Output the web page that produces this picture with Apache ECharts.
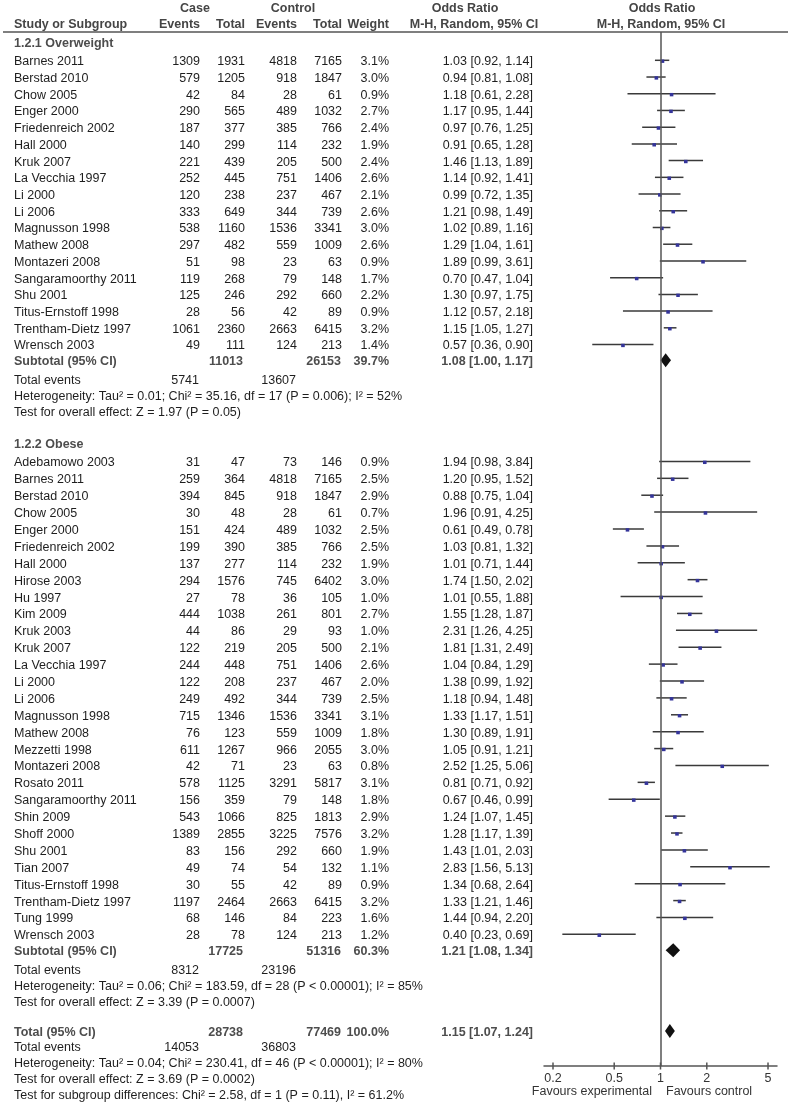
<!DOCTYPE html>
<html><head><meta charset="utf-8">
<script src="https://cdn.jsdelivr.net/npm/echarts@6/dist/echarts.min.js"></script>
<style>html,body{margin:0;padding:0;background:#fff}#c{width:792px;height:1113px}</style>
</head><body><div id="c"></div>
<script>
// ---------------- DATA ----------------
const owStudies = ['Barnes 2011','Berstad 2010','Chow 2005','Enger 2000','Friedenreich 2002','Hall 2000','Kruk 2007','La Vecchia 1997','Li 2000','Li 2006','Magnusson 1998','Mathew 2008','Montazeri 2008','Sangaramoorthy 2011','Shu 2001','Titus-Ernstoff 1998','Trentham-Dietz 1997','Wrensch 2003'];
const owCaseEvents = [1309,579,42,290,187,140,221,252,120,333,538,297,51,119,125,28,1061,49];
const owCaseTotal  = [1931,1205,84,565,377,299,439,445,238,649,1160,482,98,268,246,56,2360,111];
const owCtrlEvents = [4818,918,28,489,385,114,205,751,237,344,1536,559,23,79,292,42,2663,124];
const owCtrlTotal  = [7165,1847,61,1032,766,232,500,1406,467,739,3341,1009,63,148,660,89,6415,213];
const owWeight     = [3.1,3.0,0.9,2.7,2.4,1.9,2.4,2.6,2.1,2.6,3.0,2.6,0.9,1.7,2.2,0.9,3.2,1.4];
const owOR         = [1.03,0.94,1.18,1.17,0.97,0.91,1.46,1.14,0.99,1.21,1.02,1.29,1.89,0.70,1.30,1.12,1.15,0.57];
const owLo         = [0.92,0.81,0.61,0.95,0.76,0.65,1.13,0.92,0.72,0.98,0.89,1.04,0.99,0.47,0.97,0.57,1.05,0.36];
const owHi         = [1.14,1.08,2.28,1.44,1.25,1.28,1.89,1.41,1.35,1.49,1.16,1.61,3.61,1.04,1.75,2.18,1.27,0.90];
const owSubtotal   = {caseTotal:11013, ctrlTotal:26153, weight:39.7, or:1.08, lo:1.00, hi:1.17, caseEvents:5741, ctrlEvents:13607};
const owStats      = ['Heterogeneity: Tau\u00b2 = 0.01; Chi\u00b2 = 35.16, df = 17 (P = 0.006); I\u00b2 = 52%','Test for overall effect: Z = 1.97 (P = 0.05)'];

const obStudies = ['Adebamowo 2003','Barnes 2011','Berstad 2010','Chow 2005','Enger 2000','Friedenreich 2002','Hall 2000','Hirose 2003','Hu 1997','Kim 2009','Kruk 2003','Kruk 2007','La Vecchia 1997','Li 2000','Li 2006','Magnusson 1998','Mathew 2008','Mezzetti 1998','Montazeri 2008','Rosato 2011','Sangaramoorthy 2011','Shin 2009','Shoff 2000','Shu 2001','Tian 2007','Titus-Ernstoff 1998','Trentham-Dietz 1997','Tung 1999','Wrensch 2003'];
const obCaseEvents = [31,259,394,30,151,199,137,294,27,444,44,122,244,122,249,715,76,611,42,578,156,543,1389,83,49,30,1197,68,28];
const obCaseTotal  = [47,364,845,48,424,390,277,1576,78,1038,86,219,448,208,492,1346,123,1267,71,1125,359,1066,2855,156,74,55,2464,146,78];
const obCtrlEvents = [73,4818,918,28,489,385,114,745,36,261,29,205,751,237,344,1536,559,966,23,3291,79,825,3225,292,54,42,2663,84,124];
const obCtrlTotal  = [146,7165,1847,61,1032,766,232,6402,105,801,93,500,1406,467,739,3341,1009,2055,63,5817,148,1813,7576,660,132,89,6415,223,213];
const obWeight     = [0.9,2.5,2.9,0.7,2.5,2.5,1.9,3.0,1.0,2.7,1.0,2.1,2.6,2.0,2.5,3.1,1.8,3.0,0.8,3.1,1.8,2.9,3.2,1.9,1.1,0.9,3.2,1.6,1.2];
const obOR         = [1.94,1.20,0.88,1.96,0.61,1.03,1.01,1.74,1.01,1.55,2.31,1.81,1.04,1.38,1.18,1.33,1.30,1.05,2.52,0.81,0.67,1.24,1.28,1.43,2.83,1.34,1.33,1.44,0.40];
const obLo         = [0.98,0.95,0.75,0.91,0.49,0.81,0.71,1.50,0.55,1.28,1.26,1.31,0.84,0.99,0.94,1.17,0.89,0.91,1.25,0.71,0.46,1.07,1.17,1.01,1.56,0.68,1.21,0.94,0.23];
const obHi         = [3.84,1.52,1.04,4.25,0.78,1.32,1.44,2.02,1.88,1.87,4.25,2.49,1.29,1.92,1.48,1.51,1.91,1.21,5.06,0.92,0.99,1.45,1.39,2.03,5.13,2.64,1.46,2.20,0.69];
const obSubtotal   = {caseTotal:17725, ctrlTotal:51316, weight:60.3, or:1.21, lo:1.08, hi:1.34, caseEvents:8312, ctrlEvents:23196};
const obStats      = ['Heterogeneity: Tau\u00b2 = 0.06; Chi\u00b2 = 183.59, df = 28 (P < 0.00001); I\u00b2 = 85%','Test for overall effect: Z = 3.39 (P = 0.0007)'];

const total        = {caseTotal:28738, ctrlTotal:77469, weight:100.0, or:1.15, lo:1.07, hi:1.24, caseEvents:14053, ctrlEvents:36803};
const totalStats   = ['Heterogeneity: Tau\u00b2 = 0.04; Chi\u00b2 = 230.41, df = 46 (P < 0.00001); I\u00b2 = 80%','Test for overall effect: Z = 3.69 (P = 0.0002)','Test for subgroup differences: Chi\u00b2 = 2.58, df = 1 (P = 0.11), I\u00b2 = 61.2%'];

const tickValues = [0.2, 0.5, 1, 2, 5];
const tickLabels = ['0.2', '0.5', '1', '2', '5'];

// ---------------- LAYOUT / STYLE ----------------
const FONT = '"Liberation Sans", Arial, Helvetica, sans-serif';
const FS = 12.5;
const C_TEXT = '#1e1e1e', C_BOLD = '#4d4d4d', C_HEAD = '#454545', C_AXIS = '#555555';
const COL = {study:14, ce:200, ct:245, xe:297, xt:342, w:389, or:533};
const PLOT = {left:544, top:32, width:233, bottom:1066};

const texts = [];
function txt(x, y, s, opt) {
  opt = opt || {};
  texts.push({type:'text', silent:true, x:x, y:y, style:{
    text:s, fontFamily:FONT, fontSize:opt.fs || FS, fontWeight:opt.bold ? 'bold' : 'normal',
    fill:opt.color || C_TEXT, align:opt.align || 'left', verticalAlign:'middle'}});
}
const fmtOR = (o,l,h) => o.toFixed(2) + ' [' + l.toFixed(2) + ', ' + h.toFixed(2) + ']';

// header
txt(195, 8.5, 'Case', {bold:true, color:C_HEAD, align:'center'});
txt(293, 8.5, 'Control', {bold:true, color:C_HEAD, align:'center'});
txt(465, 8.5, 'Odds Ratio', {bold:true, color:C_HEAD, align:'center'});
txt(662, 8.5, 'Odds Ratio', {bold:true, color:C_HEAD, align:'center'});
txt(COL.study, 25, 'Study or Subgroup', {bold:true, color:C_HEAD});
txt(COL.ce, 25, 'Events', {bold:true, color:C_HEAD, align:'right'});
txt(COL.ct, 25, 'Total', {bold:true, color:C_HEAD, align:'right'});
txt(COL.xe, 25, 'Events', {bold:true, color:C_HEAD, align:'right'});
txt(COL.xt, 25, 'Total', {bold:true, color:C_HEAD, align:'right'});
txt(COL.w, 25, 'Weight', {bold:true, color:C_HEAD, align:'right'});
txt(474, 25, 'M-H, Random, 95% CI', {bold:true, color:C_HEAD, align:'center'});
txt(661, 25, 'M-H, Random, 95% CI', {bold:true, color:C_HEAD, align:'center'});

const studyMarks = [], diamondMarks = [];
function group(title, yTitle, firstGap, step, names, ce, ct, xe, xt, w, or, lo, hi, sub, stats) {
  txt(COL.study, yTitle, title, {bold:true, color:C_BOLD});
  let y = yTitle + firstGap;
  for (let i = 0; i < names.length; i++) {
    if (i > 0) y += step;
    txt(COL.study, y, names[i]);
    txt(COL.ce, y, String(ce[i]), {align:'right'});
    txt(COL.ct, y, String(ct[i]), {align:'right'});
    txt(COL.xe, y, String(xe[i]), {align:'right'});
    txt(COL.xt, y, String(xt[i]), {align:'right'});
    txt(COL.w, y, w[i].toFixed(1) + '%', {align:'right'});
    txt(COL.or, y, fmtOR(or[i], lo[i], hi[i]), {align:'right'});
    studyMarks.push([lo[i], hi[i], or[i], y]);
  }
  y += 15.8;
  txt(COL.study, y, 'Subtotal (95% CI)', {bold:true, color:C_BOLD});
  txt(COL.ct - 2, y, String(sub.caseTotal), {bold:true, color:C_BOLD, align:'right'});
  txt(COL.xt - 1, y, String(sub.ctrlTotal), {bold:true, color:C_BOLD, align:'right'});
  txt(COL.w, y, sub.weight.toFixed(1) + '%', {bold:true, color:C_BOLD, align:'right'});
  txt(COL.or, y, fmtOR(sub.or, sub.lo, sub.hi), {bold:true, color:C_BOLD, align:'right'});
  diamondMarks.push([sub.lo, sub.hi, sub.or, y]);
  y += 18.8;
  txt(COL.study, y, 'Total events');
  txt(COL.ce - 1, y, String(sub.caseEvents), {align:'right'});
  txt(COL.xe - 1, y, String(sub.ctrlEvents), {align:'right'});
  y += 16;
  txt(COL.study, y, stats[0]);
  y += 16;
  txt(COL.study, y, stats[1]);
  return y;
}
let yEnd = group('1.2.1 Overweight', 43.5, 18.3, 16.72, owStudies, owCaseEvents, owCaseTotal, owCtrlEvents, owCtrlTotal, owWeight, owOR, owLo, owHi, owSubtotal, owStats);
yEnd = group('1.2.2 Obese', yEnd + 32.3, 18, 16.89, obStudies, obCaseEvents, obCaseTotal, obCtrlEvents, obCtrlTotal, obWeight, obOR, obLo, obHi, obSubtotal, obStats);
let yT = yEnd + 30;
txt(COL.study, yT, 'Total (95% CI)', {bold:true, color:C_BOLD});
txt(COL.ct - 2, yT, String(total.caseTotal), {bold:true, color:C_BOLD, align:'right'});
txt(COL.xt - 1, yT, String(total.ctrlTotal), {bold:true, color:C_BOLD, align:'right'});
txt(COL.w, yT, total.weight.toFixed(1) + '%', {bold:true, color:C_BOLD, align:'right'});
txt(COL.or, yT, fmtOR(total.or, total.lo, total.hi), {bold:true, color:C_BOLD, align:'right'});
diamondMarks.push([total.lo, total.hi, total.or, yT]);
let y2 = yT + 15;
txt(COL.study, y2, 'Total events');
txt(COL.ce - 1, y2, String(total.caseEvents), {align:'right'});
txt(COL.xe - 1, y2, String(total.ctrlEvents), {align:'right'});
totalStats.forEach(s => { y2 += 16; txt(COL.study, y2, s); });

// favours labels
txt(652, 1092, 'Favours experimental', {color:'#333', align:'right'});
txt(666, 1092, 'Favours control', {color:'#333', align:'left'});
// header rule
texts.push({type:'line', silent:true, shape:{x1:3, y1:32, x2:788, y2:32}, style:{stroke:C_AXIS, lineWidth:1.5}});

// ---------------- CHART ----------------
const chart = echarts.init(document.getElementById('c'), null, {renderer:'canvas'});
const MARK_DY = 1.5;
chart.setOption({
  animation:false,
  backgroundColor:'#ffffff',
  grid:[{left:PLOT.left, top:PLOT.top, width:PLOT.width, height:PLOT.bottom - PLOT.top}],
  xAxis:[{type:'log', logBase:10, min:0.1748, max:5.72,
    axisLine:{show:true, onZero:false, lineStyle:{color:C_AXIS, width:1.5}},
    axisTick:{show:false}, axisLabel:{show:false}, splitLine:{show:false}}],
  yAxis:[{type:'value', min:PLOT.top, max:PLOT.bottom, inverse:true, show:false}],
  graphic:texts,
  series:[
    {type:'custom', name:'studies', clip:false, data:studyMarks, encode:{x:[0,1,2], y:3},
      renderItem:function(params, api){
        const y = api.value(3) - MARK_DY;
        const a = api.coord([api.value(0), y]), b = api.coord([api.value(1), y]), c = api.coord([api.value(2), y]);
        return {type:'group', children:[
          {type:'line', shape:{x1:a[0], y1:a[1], x2:b[0], y2:b[1]}, style:{stroke:'#3a3a3a', lineWidth:1.5}},
          {type:'rect', shape:{x:c[0]-1.8, y:c[1]-0.8, width:3.6, height:3.4}, style:{fill:'#34349a'}}
        ]};
      },
      markLine:{silent:true, symbol:['none','none'], label:{show:false}, lineStyle:{color:C_AXIS, width:1.5, type:'solid'},
        data:[{xAxis:1}]}
    },
    {type:'custom', name:'diamonds', clip:false, data:diamondMarks, encode:{x:[0,1,2], y:3},
      renderItem:function(params, api){
        const y = api.value(3) - MARK_DY;
        const a = api.coord([api.value(0), y]), b = api.coord([api.value(1), y]), c = api.coord([api.value(2), y]);
        const h = 7;
        return {type:'polygon', shape:{points:[[a[0],a[1]],[c[0],c[1]-h],[b[0],b[1]],[c[0],c[1]+h]]}, style:{fill:'#111111'}};
      }
    },
    {type:'custom', name:'ticks', clip:false, data:tickValues.map((v,i)=>[v, PLOT.bottom, i]), encode:{x:0, y:1},
      renderItem:function(params, api){
        const p = api.coord([api.value(0), api.value(1)]);
        return {type:'group', children:[
          {type:'line', shape:{x1:p[0], y1:p[1]-3.5, x2:p[0], y2:p[1]+3.5}, style:{stroke:C_AXIS, lineWidth:1.5}},
          {type:'text', style:{text:tickLabels[api.value(2)], x:p[0], y:p[1]+12.5, align:'center', verticalAlign:'middle',
            fontFamily:FONT, fontSize:FS, fill:'#333'}}
        ]};
      }
    }
  ]
});
</script></body></html>
